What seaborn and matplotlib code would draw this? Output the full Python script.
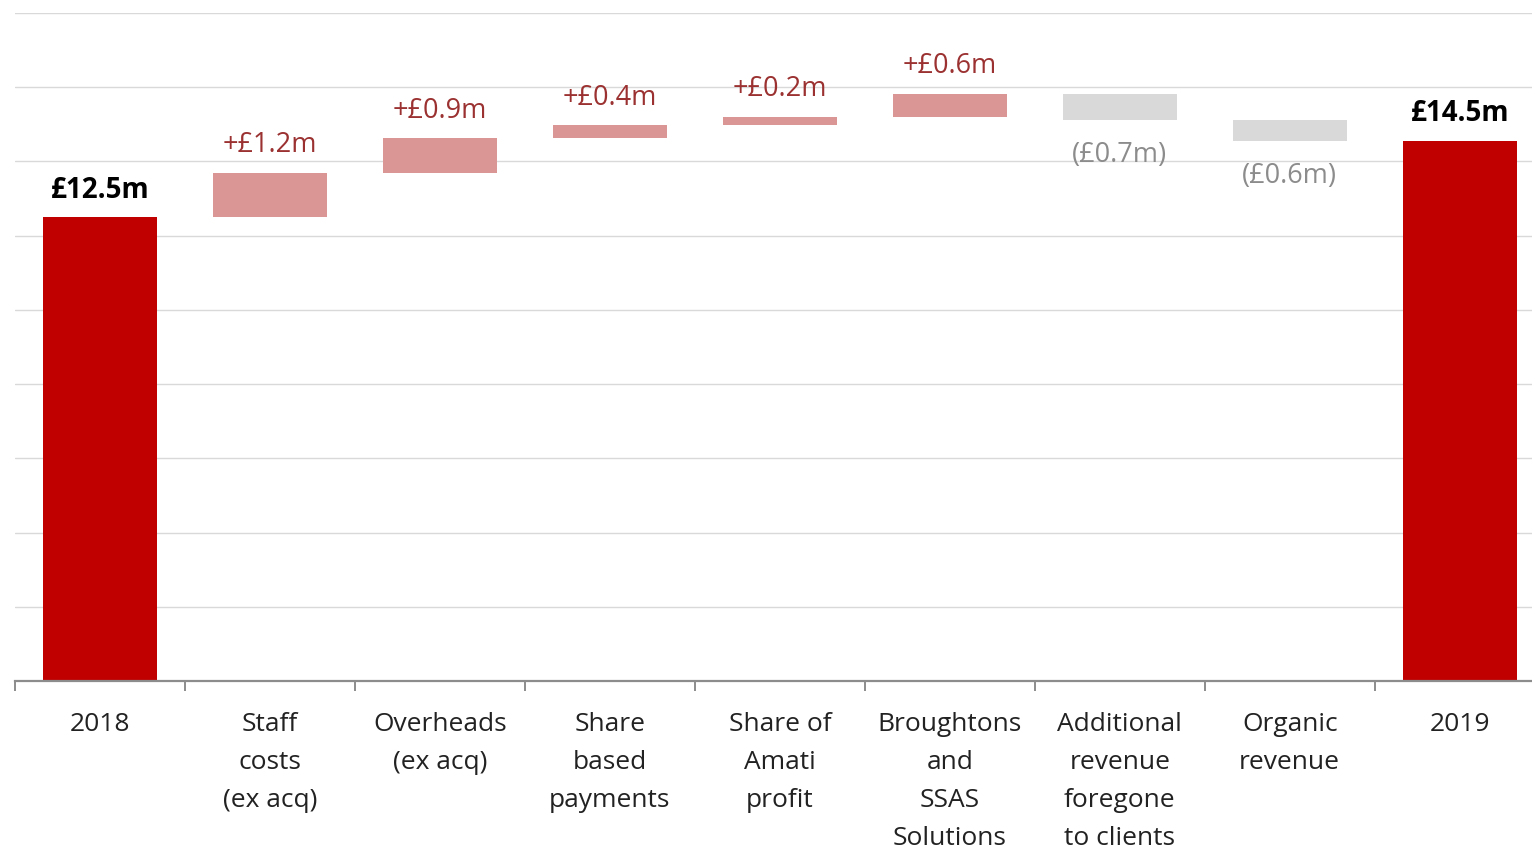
import matplotlib
matplotlib.use("Agg")
import matplotlib.pyplot as plt
import seaborn as sns
import pandas as pd
import numpy as np
from matplotlib.ticker import FixedLocator

categories = ["2018", "Staff\ncosts\n(ex acq)", "Overheads\n(ex acq)", "Share\nbased\npayments",
              "Share of\nAmati\nprofit", "Broughtons\nand\nSSAS\nSolutions",
              "Additional\nrevenue\nforegone\nto clients", "Organic\nrevenue", "2019"]
start_value = 12.5
changes = [1.2, 0.92, 0.35, 0.24, 0.62, -0.70, -0.57]
value_labels = ["£12.5m", "+£1.2m", "+£0.9m", "+£0.4m", "+£0.2m", "+£0.6m",
                "(£0.7m)", "(£0.6m)", "£14.5m"]
kinds = ["total", "up", "up", "up", "up", "up", "down", "down", "total"]

# build waterfall table
lows, highs = [0.0], [start_value]
level = start_value
for c in changes:
    new = level + c
    lows.append(min(level, new))
    highs.append(max(level, new))
    level = new
lows.append(0.0)
highs.append(level)

df = pd.DataFrame({"category": categories, "low": lows, "high": highs, "kind": kinds})

palette = {"total": "#C00000", "up": "#DA9694", "down": "#D9D9D9"}
label_colors = {"total": "#000000", "up": "#9B3131", "down": "#8C8C8C"}

sns.set_theme(style="white")
plt.rcParams["font.family"] = ["Open Sans", "DejaVu Sans"]

fig = plt.figure(figsize=(15.32, 8.48), dpi=100)
ax = fig.add_axes([15 / 1532, 1 - 681 / 848, 1 - 15 / 1532, (681 - 13) / 848])

sns.barplot(data=df, x="category", y="high", hue="kind", palette=palette,
            dodge=False, width=0.67, legend=False, ax=ax, zorder=3, saturation=1,
            order=categories, hue_order=["total", "up", "down"], linewidth=0)

for p in ax.patches:
    idx = int(round(p.get_x() + p.get_width() / 2))
    if p.get_height() == 0 or np.isnan(p.get_height()):
        continue
    p.set_y(df.loc[idx, "low"])
    p.set_height(df.loc[idx, "high"] - df.loc[idx, "low"])

ax.set_ylim(0, 18)
ax.set_xlim(-0.5, (1532 - 100.5) / 169.9)
ax.yaxis.set_major_locator(FixedLocator(np.arange(0, 19, 2)))
ax.grid(axis="y", color="#D9D9D9", linewidth=1, zorder=0)
ax.set_axisbelow(True)
ax.set_yticklabels([])
ax.tick_params(axis="y", length=0)
for s in ["top", "right", "left"]:
    ax.spines[s].set_visible(False)
ax.spines["bottom"].set_color("#8C8C8C")
ax.spines["bottom"].set_linewidth(1.6)
ax.spines["bottom"].set_zorder(4)

ax.set_xlabel("")
ax.set_ylabel("")
ax.xaxis.set_minor_locator(FixedLocator(np.arange(-0.5, 8, 1.0)))
ax.tick_params(axis="x", which="minor", length=7.5, width=1.4, color="#8C8C8C", direction="out", bottom=True)
ax.tick_params(axis="x", which="major", length=0, pad=22)
ax.set_xticks(range(len(categories)))
ax.set_xticklabels(categories, fontsize=19, color="#222222", linespacing=1.69, va="top")

for i, row in df.iterrows():
    k = row["kind"]
    if k == "down":
        y, off = row["low"], -25.5
    else:
        y, off = row["high"], 19.5
    ax.annotate(value_labels[i], (i, y), xytext=(0, off), textcoords="offset points",
                ha="center", va="center", fontsize=19.5 if k != "total" else 20,
                fontweight="bold" if k == "total" else "normal",
                color=label_colors[k], zorder=5)

fig.savefig("out.png", dpi=100)
